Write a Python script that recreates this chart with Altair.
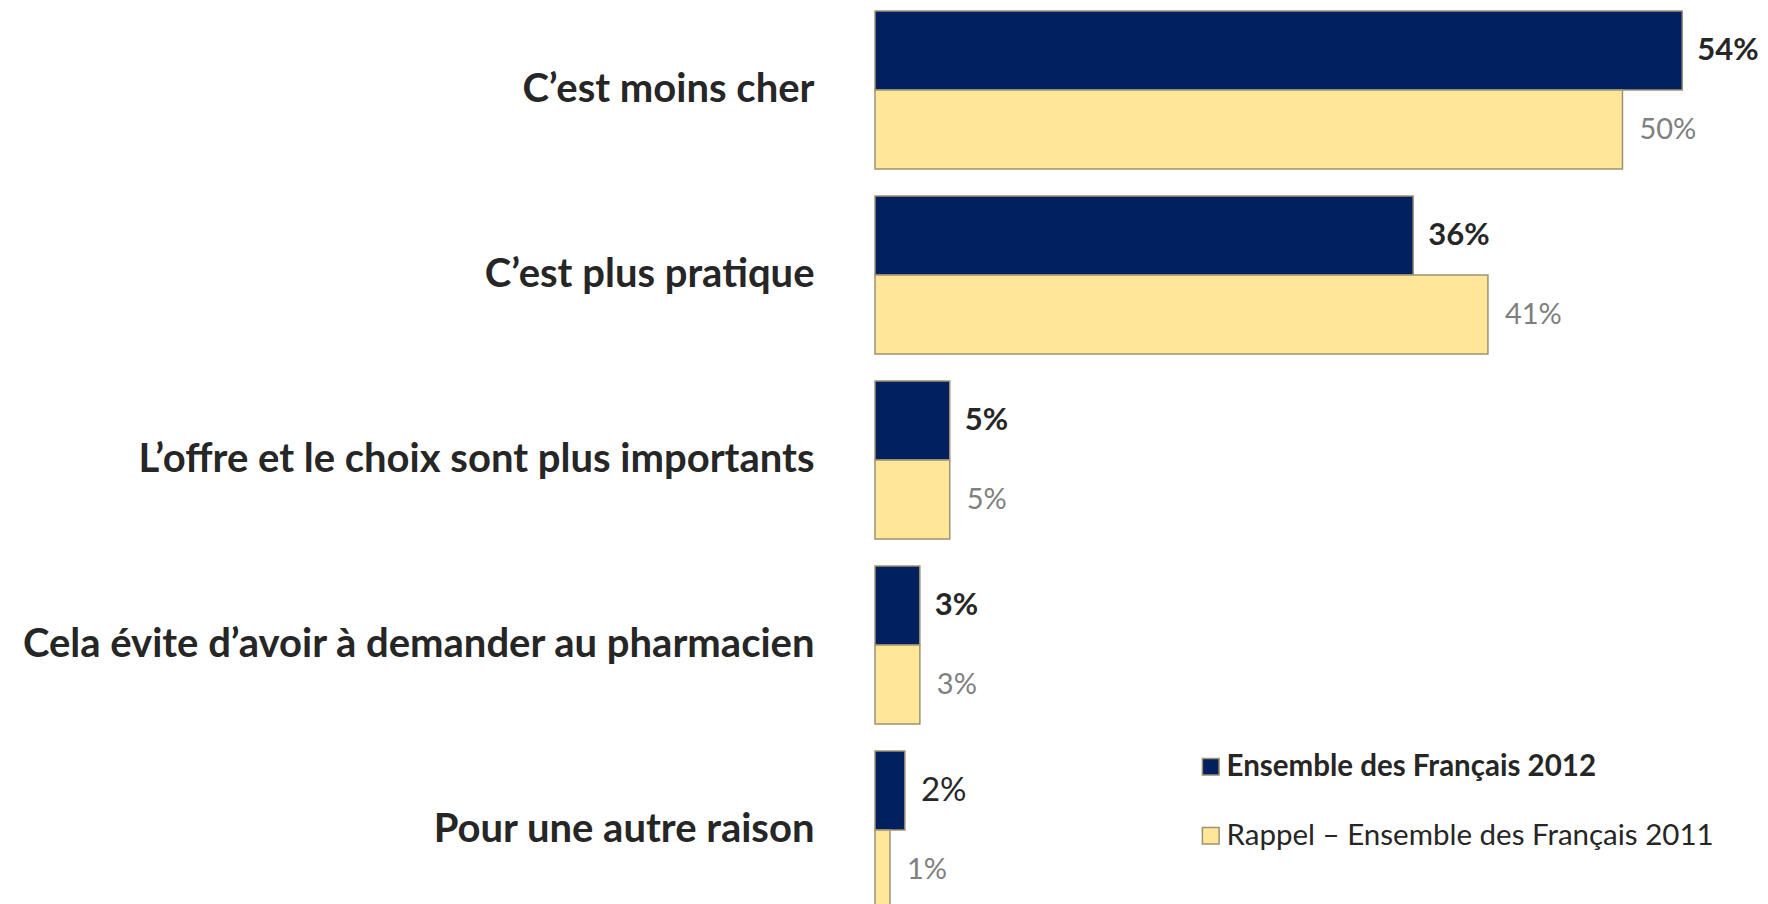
import altair as alt
import pandas as pd

categories = [
    "C’est moins cher",
    "C’est plus pratique",
    "L’offre et le choix sont plus importants",
    "Cela évite d’avoir à demander au pharmacien",
    "Pour une autre raison",
]
series = ["Ensemble des Français 2012", "Rappel – Ensemble des Français 2011"]
values_2012 = [54, 36, 5, 3, 2]
values_2011 = [50, 41, 5, 3, 1]

rows = []
for c, a, b in zip(categories, values_2012, values_2011):
    rows.append({"category": c, "series": series[0], "value": a, "label": f"{a}%"})
    rows.append({"category": c, "series": series[1], "value": b, "label": f"{b}%"})
df = pd.DataFrame(rows)

FONT = "Lato"
y_enc = alt.Y("category:N", sort=categories, title=None,
              scale=alt.Scale(paddingInner=27 / 185, paddingOuter=0),
              axis=alt.Axis(domain=False, ticks=False, labelFont=FONT, labelFontSize=40,
                            labelFontWeight="bold", labelColor="#262626", labelPadding=61,
                            labelLimit=1000))
yoff = alt.YOffset("series:N", sort=series)
x_enc = alt.X("value:Q", scale=alt.Scale(domain=[0, 59.2], nice=False, zero=True), axis=None)

base = alt.Chart(df).encode(y=y_enc, yOffset=yoff, x=x_enc)

bars = base.mark_bar(stroke="#9E9272", strokeWidth=1.5, cornerRadius=0).encode(
    color=alt.Color("series:N", sort=series, title=None,
                    scale=alt.Scale(domain=series, range=["#002060", "#FFE699"]),
                    legend=alt.Legend(orient="none", legendX=321, legendY=741, padding=0,
                                      symbolType="square", symbolSize=280,
                                      symbolStrokeColor="#9E9272", symbolStrokeWidth=1.5,
                                      labelFont=FONT, labelFontSize=29.5, labelColor="#262626",
                                      labelFontWeight=alt.ExprRef("indexof(datum.label, 'Rappel') < 0 ? 'bold' : 'normal'"),
                                      labelOffset=1, rowPadding=38, labelLimit=1000))
)

txt_bold = base.transform_filter(
    (alt.datum.series == series[0]) & (alt.datum.category != categories[4])
).mark_text(align="left", baseline="middle", dx=15, font=FONT, fontSize=31,
            fontWeight="bold", color="#262626").encode(text="label:N")
txt_plain = base.transform_filter(
    (alt.datum.series == series[0]) & (alt.datum.category == categories[4])
).mark_text(align="left", baseline="middle", dx=16, font=FONT, fontSize=33,
            color="#262626").encode(text="label:N")
txt_gray = base.transform_filter(alt.datum.series == series[1]).mark_text(
    align="left", baseline="middle", dx=17, font=FONT, fontSize=29, color="#7F7F7F"
).encode(text="label:N")

chart = alt.layer(bars, txt_bold, txt_plain, txt_gray).properties(
    width=885, height=898,
    autosize=alt.AutoSizeParams(type="none"),
    padding={"left": 867, "top": 3, "right": 0, "bottom": 0},
).configure_view(stroke=None)

chart.save("out.html", embed_options={"renderer": "svg", "actions": False})
